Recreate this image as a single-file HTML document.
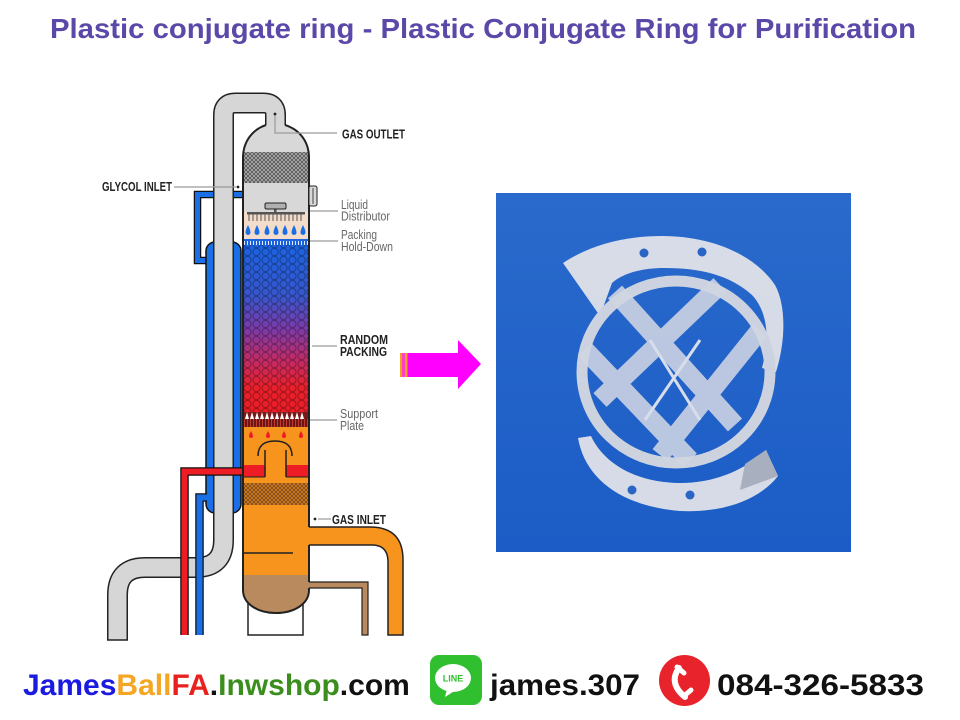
<!DOCTYPE html>
<html><head><meta charset="utf-8">
<style>html,body{margin:0;padding:0;background:#fff;width:960px;height:720px;overflow:hidden}</style>
</head><body>
<svg width="960" height="720" viewBox="0 0 960 720" xmlns="http://www.w3.org/2000/svg" font-family="'Liberation Sans', Arial, sans-serif">
<defs>
 <linearGradient id="pk" x1="0" y1="245" x2="0" y2="412" gradientUnits="userSpaceOnUse">
  <stop offset="0" stop-color="#1b62e0"/>
  <stop offset="0.3" stop-color="#3656cc"/>
  <stop offset="0.5" stop-color="#7a3aa8"/>
  <stop offset="0.7" stop-color="#c42a62"/>
  <stop offset="0.85" stop-color="#e8202c"/>
  <stop offset="1" stop-color="#ea1c26"/>
 </linearGradient>
 <pattern id="bub" width="9" height="8" patternUnits="userSpaceOnUse">
  <circle cx="4.5" cy="4" r="3.6" fill="none" stroke="rgba(0,0,0,0.4)" stroke-width="0.8"/>
 </pattern>
 <pattern id="mesh" width="4" height="4" patternUnits="userSpaceOnUse">
  <rect width="4" height="4" fill="#b4b4b4"/>
  <path d="M0,0L4,4M4,0L0,4" stroke="#555" stroke-width="0.9"/>
 </pattern>
 <pattern id="mesh2" width="4" height="4" patternUnits="userSpaceOnUse">
  <rect width="4" height="4" fill="#d9801c"/>
  <path d="M0,0L4,4M4,0L0,4" stroke="#7a4a20" stroke-width="0.9"/>
 </pattern>
 <pattern id="tick" width="3" height="6" patternUnits="userSpaceOnUse">
  <rect width="3" height="6" fill="#1b62e0"/>
  <rect x="1" y="1" width="1" height="4" fill="#dfe8ff"/>
 </pattern>
 <pattern id="sup" width="3" height="8" patternUnits="userSpaceOnUse">
  <rect width="3" height="8" fill="#6e1616"/>
  <rect x="1" width="1" height="8" fill="#c23a2a"/>
 </pattern>
 <linearGradient id="bg" x1="0" y1="0" x2="0" y2="1">
  <stop offset="0" stop-color="#2a6acc"/><stop offset="1" stop-color="#1b5cc6"/>
 </linearGradient>
 <clipPath id="col">
  <path d="M243,590 L243,158 C243,140 254,129 266,125 L285,125 C298,129 309,140 309,158 L309,590 C309,604 294,613 276,613 C258,613 243,604 243,590 Z"/>
 </clipPath>
</defs>

<!-- Title -->
<text x="50" y="38" font-size="28" font-weight="bold" fill="#5b48a8" textLength="866" lengthAdjust="spacingAndGlyphs">Plastic conjugate ring - Plastic Conjugate Ring for Purification</text>

<!-- skirt -->
<rect x="248" y="600" width="55" height="35" fill="#fff" stroke="#222" stroke-width="1.5"/>

<!-- upper blue U pipe -->
<path d="M279,203 L279,194.5 L197.5,194.5 L197.5,260.5 L208,260.5" fill="none" stroke="#111" stroke-width="7.5"/>
<path d="M279,203 L279,194.5 L197.5,194.5 L197.5,260.5 L208,260.5" fill="none" stroke="#1b6fe6" stroke-width="5"/>

<!-- blue jacket -->
<rect x="206" y="242" width="35" height="271" rx="9" fill="#1b6fe6" stroke="#111" stroke-width="1.5"/>

<!-- gray tall pipe -->
<path d="M275.5,132 L275.5,115 Q275.5,103 263.5,103 L235.5,103 Q223.5,103 223.5,115 L223.5,540 Q223.5,567.5 196,567.5 L145,567.5 Q117.5,567.5 117.5,595 L117.5,640" fill="none" stroke="#222" stroke-width="21"/>
<path d="M275.5,132 L275.5,115 Q275.5,103 263.5,103 L235.5,103 Q223.5,103 223.5,115 L223.5,540 Q223.5,567.5 196,567.5 L145,567.5 Q117.5,567.5 117.5,595 L117.5,640" fill="none" stroke="#d6d6d6" stroke-width="18"/>
<line x1="107" y1="640" x2="128" y2="640" stroke="#222" stroke-width="1.5"/>

<!-- lower blue pipe -->
<path d="M207,497.5 L199.5,497.5 L199.5,635" fill="none" stroke="#111" stroke-width="8.5"/>
<path d="M207,497.5 L199.5,497.5 L199.5,635" fill="none" stroke="#1b6fe6" stroke-width="6"/>
<!-- red pipe -->
<path d="M244,471.5 L184.5,471.5 L184.5,635" fill="none" stroke="#111" stroke-width="8.5"/>
<path d="M244,471.5 L184.5,471.5 L184.5,635" fill="none" stroke="#ee1c24" stroke-width="6"/>

<!-- column fills -->
<g clip-path="url(#col)">
 <rect x="240" y="100" width="72" height="52" fill="#d8d8d8"/>
 <rect x="240" y="152" width="72" height="31" fill="url(#mesh)"/>
 <rect x="240" y="183" width="72" height="29" fill="#d8d8d8"/>
 <rect x="240" y="212" width="72" height="27" fill="#f3dcc9"/>
 <rect x="240" y="239" width="72" height="6" fill="url(#tick)"/>
 <rect x="240" y="245" width="72" height="167" fill="url(#pk)"/>
 <rect x="240" y="245" width="72" height="167" fill="url(#bub)"/>
 <rect x="240" y="412" width="72" height="7" fill="#7a1a1a"/>
 <path d="M245,419l2,-7l2,7zM250,419l2,-7l2,7zM255,419l2,-7l2,7zM260,419l2,-7l2,7zM265,419l2,-7l2,7zM270,419l2,-7l2,7zM275,419l2,-7l2,7zM280,419l2,-7l2,7zM285,419l2,-7l2,7zM290,419l2,-7l2,7zM295,419l2,-7l2,7zM300,419l2,-7l2,7z" fill="#fff"/>
 <rect x="240" y="419" width="72" height="8" fill="url(#sup)"/>
 <rect x="240" y="427" width="72" height="148" fill="#f7941d"/>
 <rect x="240" y="483" width="72" height="22" fill="url(#mesh2)"/>
 <rect x="240" y="575" width="72" height="45" fill="#b98a5e"/>
 <rect x="240" y="465" width="25" height="12" fill="#ee1c24"/>
 <rect x="286" y="465" width="26" height="12" fill="#ee1c24"/>
 <line x1="240" y1="553" x2="293" y2="553" stroke="#222" stroke-width="1.5"/>
</g>
<line x1="243" y1="477" x2="265" y2="477" stroke="#222" stroke-width="1"/>
<line x1="286" y1="477" x2="309" y2="477" stroke="#222" stroke-width="1"/>
<!-- chimney -->
<path d="M265,450 L265,477 M286,450 L286,477" stroke="#222" stroke-width="1.5"/>
<path d="M258,456 Q258,441 275,441 Q292,441 292,456" fill="none" stroke="#222" stroke-width="1.5"/>
<!-- red drops -->
<path d="M251,431q-2,3.5-2,5a2,2 0 0 0 4,0q0-1.5-2-5zM268,431q-2,3.5-2,5a2,2 0 0 0 4,0q0-1.5-2-5zM284,431q-2,3.5-2,5a2,2 0 0 0 4,0q0-1.5-2-5zM301,431q-2,3.5-2,5a2,2 0 0 0 4,0q0-1.5-2-5z" fill="#ee1c24"/>
<!-- distributor -->
<rect x="274" y="208" width="2.5" height="4" fill="#555"/>
<rect x="265" y="203" width="21" height="6" rx="1.5" fill="#b0b0b0" stroke="#222" stroke-width="1"/>
<rect x="247" y="212" width="58" height="2.5" fill="#555"/>
<path d="M249,214v7M253,214v7M257,214v7M261,214v7M265,214v7M269,214v7M273,214v7M277,214v7M281,214v7M285,214v7M289,214v7M293,214v7M297,214v7M301,214v7" stroke="#555" stroke-width="1"/>
<!-- blue drops -->
<path d="M248,225q-2.5,5-2.5,7.5a2.5,2.5 0 0 0 5,0q0-2.5-2.5-7.5zM257,225q-2.5,5-2.5,7.5a2.5,2.5 0 0 0 5,0q0-2.5-2.5-7.5zM267,225q-2.5,5-2.5,7.5a2.5,2.5 0 0 0 5,0q0-2.5-2.5-7.5zM276,225q-2.5,5-2.5,7.5a2.5,2.5 0 0 0 5,0q0-2.5-2.5-7.5zM285,225q-2.5,5-2.5,7.5a2.5,2.5 0 0 0 5,0q0-2.5-2.5-7.5zM294,225q-2.5,5-2.5,7.5a2.5,2.5 0 0 0 5,0q0-2.5-2.5-7.5zM303,225q-2.5,5-2.5,7.5a2.5,2.5 0 0 0 5,0q0-2.5-2.5-7.5z" fill="#1b6fe6"/>

<!-- column outline -->
<path d="M266,125 C254,129 243,140 243,158 L243,590 C243,604 258,613 276,613 C294,613 309,604 309,590 L309,158 C309,140 298,129 285,125" fill="none" stroke="#222" stroke-width="2"/>

<!-- nozzle -->
<rect x="309" y="186" width="8" height="20" rx="2" fill="#d8d8d8" stroke="#222" stroke-width="1"/>
<line x1="313" y1="188" x2="313" y2="204" stroke="#222" stroke-width="0.8"/>

<!-- orange gas inlet pipe -->
<path d="M307,527 L370,527 Q403,527 403,560 L403,635 L388,635 L388,562 Q388,545 372,545 L307,545 Z" fill="#f7941d"/>
<path d="M309,527 L370,527 Q403,527 403,560 L403,635 L388,635 L388,562 Q388,545 372,545 L309,545" fill="none" stroke="#222" stroke-width="1.5"/>
<!-- brown pipe -->
<path d="M307,582 L368,582 L368,635 L362,635 L362,588 L307,588 Z" fill="#b98a5e"/>
<path d="M309,582 L368,582 L368,635 L362,635 L362,588 L309,588" fill="none" stroke="#222" stroke-width="1.2"/>

<!-- leader lines -->
<g stroke="#9a9a9a" stroke-width="1.2" fill="none">
 <path d="M275,114 L275,133 L337,133"/>
 <path d="M174,187 L236,187"/>
 <path d="M310,211 L338,211"/>
 <path d="M310,241 L338,241"/>
 <path d="M312,346 L337,346"/>
 <path d="M310,420 L337,420"/>
 <path d="M318,519 L331,519"/>
</g>
<circle cx="275" cy="114" r="1.4" fill="#222"/>
<circle cx="238" cy="187" r="1.4" fill="#222"/>
<circle cx="315" cy="519" r="1.4" fill="#222"/>

<!-- labels -->
<g font-weight="bold" fill="#222" font-size="13">
 <text x="342" y="138.5" textLength="63" lengthAdjust="spacingAndGlyphs">GAS OUTLET</text>
 <text x="102" y="191" textLength="70" lengthAdjust="spacingAndGlyphs">GLYCOL INLET</text>
 <text x="340" y="344" font-size="12.5" textLength="48" lengthAdjust="spacingAndGlyphs">RANDOM</text>
 <text x="340" y="356" font-size="12.5" textLength="47" lengthAdjust="spacingAndGlyphs">PACKING</text>
 <text x="332" y="524" textLength="54" lengthAdjust="spacingAndGlyphs">GAS INLET</text>
</g>
<g fill="#666" font-size="12.5">
 <text x="341" y="209" textLength="27" lengthAdjust="spacingAndGlyphs">Liquid</text>
 <text x="341" y="220.5" textLength="49" lengthAdjust="spacingAndGlyphs">Distributor</text>
 <text x="341" y="239" textLength="36" lengthAdjust="spacingAndGlyphs">Packing</text>
 <text x="341" y="251" textLength="52" lengthAdjust="spacingAndGlyphs">Hold-Down</text>
 <text x="340" y="418" textLength="38" lengthAdjust="spacingAndGlyphs">Support</text>
 <text x="340" y="430" textLength="24" lengthAdjust="spacingAndGlyphs">Plate</text>
</g>

<!-- arrow -->
<rect x="400" y="353" width="2" height="24" fill="#f0a020"/>
<rect x="402" y="353" width="3" height="24" fill="#ff40c0"/>
<rect x="405" y="353" width="2.5" height="24" fill="#f0a020"/>
<rect x="407.5" y="353" width="51" height="24" fill="#ff00ff"/>
<polygon points="458,340 481,364 458,389" fill="#ff00ff"/>

<!-- photo -->
<rect x="496" y="193" width="355" height="359" fill="url(#bg)"/>
<g opacity="0.92">
 <path d="M563,263 C590,245 625,236 662,236 C712,236 755,255 775,285 C786,305 786,340 776,372 L762,368 C770,340 768,312 752,295 C730,275 700,268 665,268 C640,268 622,274 612,283 L600,316 Z" fill="#e6e6ea"/>
 <ellipse cx="676" cy="372" rx="94" ry="91" fill="none" stroke="#dcdce2" stroke-width="11"/>
 <path d="M578,438 C585,478 620,506 680,511 C725,513 760,499 778,476 L766,450 C745,470 715,483 680,483 C640,483 605,466 591,436 Z" fill="#e6e6ea"/>
 <polygon points="740,490 778,476 766,450 745,464" fill="#b4b6be"/>
 <g stroke="#e0e0e6" stroke-width="19" opacity="0.88" fill="none">
  <line x1="615" y1="292" x2="735" y2="425"/>
  <line x1="585" y1="350" x2="690" y2="460"/>
  <line x1="720" y1="285" x2="600" y2="400"/>
  <line x1="760" y1="330" x2="660" y2="455"/>
 </g>
 <g stroke="#e8e8ee" stroke-width="3" fill="none">
  <line x1="650" y1="340" x2="700" y2="420"/>
  <line x1="700" y1="340" x2="645" y2="420"/>
 </g>
</g>
<g fill="#2a64c4">
 <circle cx="644" cy="253" r="4.5"/>
 <circle cx="702" cy="252" r="4.5"/>
 <circle cx="632" cy="490" r="4.5"/>
 <circle cx="690" cy="495" r="4.5"/>
</g>

<!-- footer -->
<text x="23" y="695" font-size="30" font-weight="bold"><tspan fill="#1a1ae0">James</tspan><tspan fill="#f5a623">Ball</tspan><tspan fill="#e8201e">FA</tspan><tspan fill="#111">.</tspan><tspan fill="#3b8e1e">Inwshop</tspan><tspan fill="#111">.com</tspan></text>

<rect x="430" y="655" width="52" height="50" rx="9" fill="#2fbf2f"/>
<ellipse cx="453" cy="678" rx="18" ry="14" fill="#fff"/>
<path d="M447,689 L445,697 L456,690 Z" fill="#fff"/>
<text x="453" y="681.5" font-size="9" font-weight="bold" fill="#2fbf2f" text-anchor="middle">LINE</text>
<text x="490" y="695" font-size="30" font-weight="bold" fill="#111" textLength="150" lengthAdjust="spacingAndGlyphs">james.307</text>

<circle cx="684.5" cy="680.5" r="25.5" fill="#e8232b"/>
<path d="M679,668 Q668,683 685,697" fill="none" stroke="#fff" stroke-width="6" stroke-linecap="round"/>
<path d="M677,667 L684,673 M684,696 L691,690" stroke="#fff" stroke-width="5" stroke-linecap="round"/>
<text x="717" y="695" font-size="30" font-weight="bold" fill="#111" textLength="207" lengthAdjust="spacingAndGlyphs">084-326-5833</text>
</svg>
</body></html>
